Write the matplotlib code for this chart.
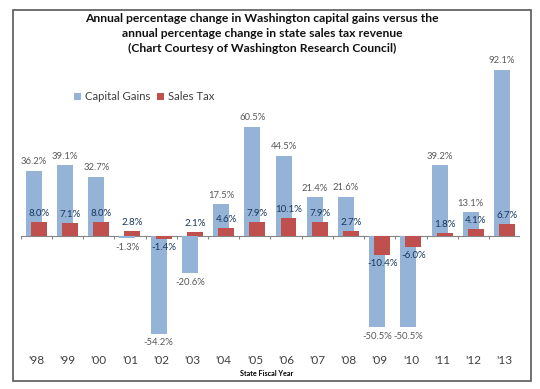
import matplotlib.pyplot as plt
import numpy as np
from matplotlib.patches import Rectangle

plt.rcParams["font.family"] = ["Lato", "DejaVu Sans"]

years = ["'98", "'99", "'00", "'01", "'02", "'03", "'04", "'05",
         "'06", "'07", "'08", "'09", "'10", "'11", "'12", "'13"]
capital_gains = [36.2, 39.1, 32.7, -1.3, -54.2, -20.6, 17.5, 60.5,
                 44.5, 21.4, 21.6, -50.5, -50.5, 39.2, 13.1, 92.1]
sales_tax = [8.0, 7.1, 8.0, 2.8, -1.4, 2.1, 4.6, 7.9,
             10.1, 7.9, 2.7, -10.4, -6.0, 1.8, 4.1, 6.7]

BLUE = "#95B3D7"
RED = "#C0504D"
GRID = "#868686"

fig = plt.figure(figsize=(5.4, 3.89), dpi=100)
ax = fig.add_axes([0.0383, 0.1149, 0.925, 0.7424])

x = np.arange(len(years))
width = 0.51
offset = 0.08
ax.bar(x - offset, capital_gains, width, color=BLUE, label="Capital Gains", zorder=2)
ax.bar(x + offset, sales_tax, width, color=RED, label="Sales Tax", zorder=3)

for xi, v in zip(x - offset, capital_gains):
    ax.annotate(f"{v:.1f}%", (xi, v), xytext=(0, 6.5 if v >= 0 else -6.5),
                textcoords="offset points", ha="center", va="center",
                fontsize=6.8, color="#595959", zorder=4)
for xi, v in zip(x + offset, sales_tax):
    ax.annotate(f"{v:.1f}%", (xi, v), xytext=(0, 6 if v >= 0 else -6.5),
                textcoords="offset points", ha="center", va="center",
                fontsize=7, color="#17375E", zorder=4)

ax.axhline(0, color=GRID, lw=0.8, zorder=1)
ax.vlines(np.arange(len(years) + 1) - 0.5, -1.8, 0, color=GRID, lw=0.8)

ax.set_xlim(-0.5, len(years) - 0.5)
ax.set_ylim(-60, 100)
ax.set_xticks(x, years)
ax.tick_params(axis="x", length=0, pad=8, labelsize=8.5, labelcolor="#404040")
ax.set_yticks([])
for side in ax.spines.values():
    side.set_visible(False)

fig.legend(loc="center", bbox_to_anchor=(144 / 540, 1 - 97 / 389), ncol=2,
           frameon=False, fontsize=8.2, handlelength=0.65, handleheight=0.65,
           handletextpad=0.3, columnspacing=0.6, labelcolor="#404040")

fig.text(262 / 540, 1 - 33.5 / 389,
         "Annual percentage change in Washington capital gains versus the\n"
         "annual percentage change in state sales tax revenue\n"
         "(Chart Courtesy of Washington Research Council)",
         ha="center", va="center", fontsize=8.7, fontweight="bold",
         linespacing=1.42, color="#111111")
fig.text(267 / 540, 1 - 374 / 389, "State Fiscal Year", ha="center",
         va="center", fontsize=5.2, fontweight="bold")

fig.patches.append(Rectangle((12.5 / 540, 1 - 381 / 389), 518.5 / 540, 371 / 389,
                             transform=fig.transFigure, fill=False,
                             edgecolor="#595959", lw=1.2))

fig.savefig("out.png", dpi=100)
